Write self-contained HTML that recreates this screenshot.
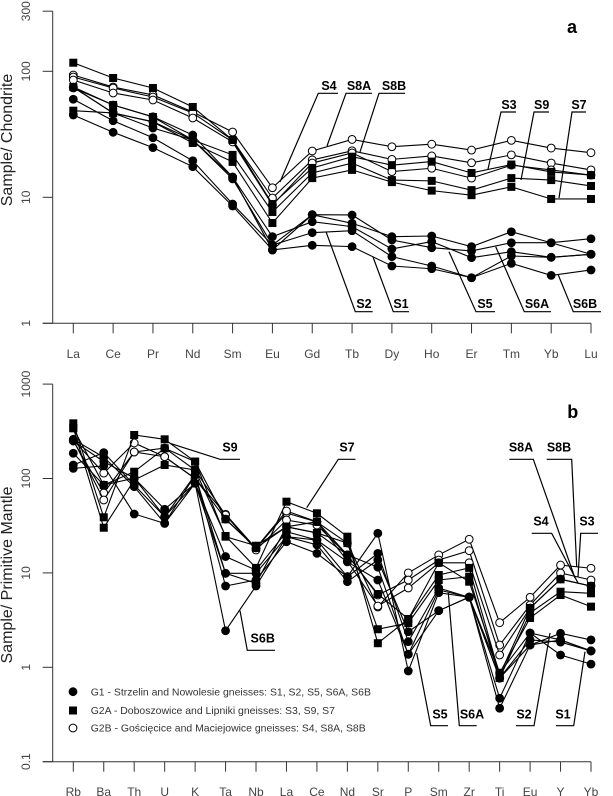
<!DOCTYPE html>
<html lang="en">
<head>
<meta charset="utf-8">
<title>REE and trace element diagrams</title>
<style>
html,body{margin:0;padding:0;background:#fff;width:613px;height:796px;overflow:hidden}
svg{display:block;font-family:"Liberation Sans",sans-serif}
.tick{stroke:#333;stroke-width:1;fill:none}
.tl{fill:#444;font-size:12px}
.title{fill:#222;font-size:16px}
.lead{stroke:#000;stroke-width:1.2;fill:none}
.ann{fill:#000;font-size:12.5px;font-weight:bold;text-anchor:middle}
.leg{fill:#333;font-size:10.45px}
</style>
</head>
<body>
<svg id="chart" width="613" height="796" viewBox="0 0 613 796" xmlns="http://www.w3.org/2000/svg">
  <g id="panel-a">
    <text class="title" transform="translate(12,140) rotate(-90)" text-anchor="middle">Sample/ Chondrite</text>
    <text x="572" y="33" font-size="18" font-weight="bold" text-anchor="middle">a</text>
  </g>
  <g id="panel-b">
    <text class="title" transform="translate(12,575) rotate(-90)" text-anchor="middle">Sample/ Primitive Mantle</text>
    <text x="572.7" y="418" font-size="18" font-weight="bold" text-anchor="middle">b</text>
  </g>
  <g>
    <path class="lead" d="M338 93.3H318.3L280 182"/><text class="ann" x="329" y="90">S4</text>
    <path class="lead" d="M372 93.3H346L327 146"/><text class="ann" x="359" y="90">S8A</text>
    <path class="lead" d="M405 93.3H379L360 152"/><text class="ann" x="394" y="90">S8B</text>
    <path class="lead" d="M516 112H501L488 169"/><text class="ann" x="509" y="109">S3</text>
    <path class="lead" d="M549 112H534L521 180"/><text class="ann" x="541.7" y="109">S9</text>
    <path class="lead" d="M586 112H572L559 198"/><text class="ann" x="579" y="109">S7</text>
    <path class="lead" d="M372.7 311.7H355.3L326 231.7"/><text class="ann" x="364" y="308">S2</text>
    <path class="lead" d="M409 311.7H393.3L373 257"/><text class="ann" x="401" y="308">S1</text>
    <path class="lead" d="M495 311.7H476L449 251.7"/><text class="ann" x="485" y="308">S5</text>
    <path class="lead" d="M551 311.7H524.3L495.7 246.7"/><text class="ann" x="537" y="308">S6A</text>
    <path class="lead" d="M601 311.7H573.3L558.3 275"/><text class="ann" x="585" y="308">S6B</text>
  </g>
  <g>
    <path class="lead" d="M240 459.3H220L170 443.3"/><text class="ann" x="230" y="451.7">S9</text>
    <path class="lead" d="M355.5 459.3H338.3L306.7 507.7"/><text class="ann" x="347" y="451.7">S7</text>
    <path class="lead" d="M509.3 459.3H533.3L575 578"/><text class="ann" x="521" y="451.7">S8A</text>
    <path class="lead" d="M546.7 459.3H571.7L576.7 566.7"/><text class="ann" x="559" y="451.7">S8B</text>
    <path class="lead" d="M531.7 533.3H551.7L578 583"/><text class="ann" x="541" y="525.7">S4</text>
    <path class="lead" d="M598 533.3H580.7L578 576.7"/><text class="ann" x="587" y="525.7">S3</text>
    <path class="lead" d="M275 650.3H247.3L240 610.7"/><text class="ann" x="262.7" y="642.7">S6B</text>
    <path class="lead" d="M448 725.7H430.7L416.7 653"/><text class="ann" x="440" y="718.3">S5</text>
    <path class="lead" d="M476.7 725.7H459.3L448.3 593"/><text class="ann" x="472" y="718.3">S6A</text>
    <path class="lead" d="M516 725.7H534L550 633"/><text class="ann" x="524" y="718.3">S2</text>
    <path class="lead" d="M556 725.7H573.7L585 651.7"/><text class="ann" x="563" y="718.3">S1</text>
  </g>
  <g>
    <circle cx="73" cy="691.7" r="4.4" fill="#000"/>
    <text class="leg" x="90.7" y="695.3">G1 - Strzelin and Nowolesie gneisses: S1, S2, S5, S6A, S6B</text>
    <rect x="69" y="706.5" width="8" height="8" fill="#000"/>
    <text class="leg" x="90.7" y="713.8">G2A - Doboszowice and Lipniki gneisses: S3, S9, S7</text>
    <circle cx="73" cy="728" r="3.9" fill="#fff" stroke="#000" stroke-width="1"/>
    <text class="leg" x="90.7" y="731.5">G2B - Gościęcice and Maciejowice gneisses: S4, S8A, S8B</text>
  </g>
</svg>
<script>
// Panel a: chondrite-normalised REE
const reeCategories = ['La','Ce','Pr','Nd','Sm','Eu','Gd','Tb','Dy','Ho','Er','Tm','Yb','Lu'];
const reeTicks = [1,10,100,300];
const reeS4  = [93.5,75.0,64.9,47.5,33.0,11.9,23.3,28.8,25.2,26.4,23.7,28.3,24.6,22.6];
const reeS8A = [90.1,73.7,62.5,46.7,28.5,9.87,19.8,23.4,20.0,21.3,18.8,21.7,18.7,16.5];
const reeS8B = [85.3,67.3,59.2,42.6,27.5,8.69,18.7,22.5,16.0,17.0,14.2,18.0,16.5,15.0];
const reeS3  = [117,88.5,73.7,52.1,28.5,8.85,17.1,21.0,18.0,19.2,15.6,18.2,15.9,15.0];
const reeS9  = [75.0,54.0,43.4,28.5,21.7,7.64,15.6,18.7,13.7,13.5,11.4,14.2,13.7,12.3];
const reeS7  = [48.7,46.7,39.6,27.0,19.1,6.25,14.2,16.5,13.2,11.3,10.4,12.1,9.70,9.70];
const reeS1  = [60.0,40.5,29.7,19.5,8.85,4.18,5.24,5.43,3.38,2.85,2.30,3.42,3.34,3.53];
const reeS2  = [73.7,54.0,43.6,31.2,14.5,4.87,6.40,5.85,3.89,4.45,3.32,3.70,3.34,3.53];
const reeS5  = [74.6,46.7,39.8,28.5,14.5,3.82,7.28,7.24,4.58,3.98,3.75,4.36,4.36,4.69];
const reeS6A = [75.0,46.7,35.5,28.5,14.0,4.18,7.28,6.22,4.87,4.93,4.06,5.33,4.36,3.53];
const reeS6B = [45.0,32.8,24.8,17.5,8.53,3.82,4.16,4.06,2.85,2.71,2.30,2.99,2.40,2.65];

// Panel b: primitive-mantle-normalised trace elements
const traceCategories = ['Rb','Ba','Th','U','K','Ta','Nb','La','Ce','Nd','Sr','P','Sm','Zr','Ti','Eu','Y','Yb'];
const traceTicks = [0.1,1,10,100,1000];
const traceS4  = [256,114,238,170,100,41.8,18.2,43.1,34.6,20.7,4.35,10.0,15.5,22.7,2.97,5.52,12.1,11.2];
const traceS8A = [250,70.2,191,210,123,41.0,17.5,36.3,32.1,15.5,5.83,8.41,13.7,17.2,1.72,4.57,9.98,8.41];
const traceS8B = [256,59.2,191,170,100,37.2,18.4,45.3,34.8,13.4,4.46,6.92,12.8,12.8,1.35,4.25,8.61,7.26];
const traceS3  = [384,38.8,289,260,151,24.2,19.4,30.8,34.8,15.5,5.97,3.25,9.50,11.3,0.829,4.25,8.55,7.26];
const traceS9  = [340,85.3,118,209,151,37.0,18.4,30.8,26.5,20.7,2.53,2.94,8.41,9.12,0.770,3.76,6.32,6.08];
const traceS7  = [343,30.1,96.4,139,123,24.6,11.3,56.8,42.8,24.2,1.80,3.25,12.8,8.07,0.870,3.33,5.83,4.39];
const traceS1  = [185,85.3,101,47.2,89,14.9,10.7,27.3,22.3,9.12,16.1,1.87,6.92,5.52,0.770,1.95,1.85,1.49];
const traceS2  = [139,188,85.3,39.4,89,9.9,9.9,24.2,19.8,8.07,13.7,2.38,3.98,5.52,0.470,2.31,1.35,1.08];
const traceS5  = [260,168,81.9,33.5,109,7.26,8.41,21.4,16.1,9.12,26.3,0.914,6.17,5.52,0.368,1.72,2.29,1.95];
const traceS6A = [250,151,101,39.4,109,9.9,7.76,30.8,26.5,15.5,11.5,1.37,3.98,5.55,0.870,2.31,1.95,1.49];
const traceS6B = [128,136,42.1,33.5,89,2.44,7.26,24.2,22.3,13.1,8.41,1.38,6.59,5.55,0.765,1.72,1.95,1.49];

const reeSeries = [
  ['s4','open',reeS4],['s8a','open',reeS8A],['s8b','open',reeS8B],
  ['s3','square',reeS3],['s9','square',reeS9],['s7','square',reeS7],
  ['s1','filled',reeS1],['s2','filled',reeS2],['s5','filled',reeS5],['s6a','filled',reeS6A],['s6b','filled',reeS6B]
];
const traceSeries = [
  ['s4','open',traceS4],['s8a','open',traceS8A],['s8b','open',traceS8B],
  ['s3','square',traceS3],['s9','square',traceS9],['s7','square',traceS7],
  ['s1','filled',traceS1],['s2','filled',traceS2],['s5','filled',traceS5],['s6a','filled',traceS6A],['s6b','filled',traceS6B]
];

const NS = 'http://www.w3.org/2000/svg';

function make(tag, parent, attrs, text) {
  const el = document.createElementNS(NS, tag);
  for (const k in attrs) el.setAttribute(k, attrs[k]);
  if (text !== undefined) el.textContent = text;
  parent.appendChild(el);
  return el;
}

function drawPanel(root, id, categories, ticks, series, pos) {
  const xScale = i => pos.x0 + i * (pos.x1 - pos.x0) / (categories.length - 1);
  const yScale = v => pos.yOne - pos.decade * Math.log10(v);
  const yMin = yScale(ticks[0]);
  const yMax = yScale(ticks[ticks.length - 1]);

  const axisY = make('line', root, {class:'tick', x1:pos.axisX, x2:pos.axisX, y1:yMax, y2:yMin});
  
  
  const axisX = make('line', root, {class:'tick', x1:pos.axisX - 10, x2:pos.x1, y1:yMin, y2:yMin});
  
  

  ticks.forEach(t => {
    const y = yScale(t);
    const tk = make('line', root, {class:'tick', x1:pos.axisX - 10, x2:pos.axisX, y1:y, y2:y});
    
    
    const lb = make('text', root, {class:'tl', transform:'translate(30,' + y + ') rotate(-90)', 'text-anchor':'middle'}, String(t));
    
    
  });

  categories.forEach((c, i) => {
    const x = xScale(i);
    const tk = make('line', root, {class:'tick', x1:x, x2:x, y1:yMin, y2:yMin + 10});
    
    
    const lb = make('text', root, {class:'tl', x:x, y:yMin + 34.5, 'text-anchor':'middle'}, c);
    
    
  });

  series.forEach(s => {
    const key = s[0], kind = s[1], vals = s[2];
    const g = make('g', root, {});
    
    
    const pts = vals.map((v, i) => xScale(i).toFixed(2) + ',' + yScale(v).toFixed(2)).join(' ');
    const line = make('polyline', g, {points:pts, fill:'none', stroke:'#000', 'stroke-width':1.1});
    
    
    vals.forEach((v, i) => {
      const x = xScale(i), y = yScale(v);
      let m;
      if (kind === 'square') {
        m = make('rect', g, {x:x - 4, y:y - 4, width:8, height:8, fill:'#000'});
      } else if (kind === 'filled') {
        m = make('circle', g, {cx:x, cy:y, r:4.4, fill:'#000'});
      } else {
        m = make('circle', g, {cx:x, cy:y, r:3.9, fill:'#fff', stroke:'#000', 'stroke-width':1});
      }
      
      
    });
  });
}

drawPanel(document.getElementById('panel-a'), 'a', reeCategories, reeTicks, reeSeries,
  {x0:73.3, x1:591, axisX:52.7, yOne:323.3, decade:126});
drawPanel(document.getElementById('panel-b'), 'b', traceCategories, traceTicks, traceSeries,
  {x0:73.3, x1:591, axisX:52.7, yOne:667.3, decade:94.4});
</script>
</body>
</html>
